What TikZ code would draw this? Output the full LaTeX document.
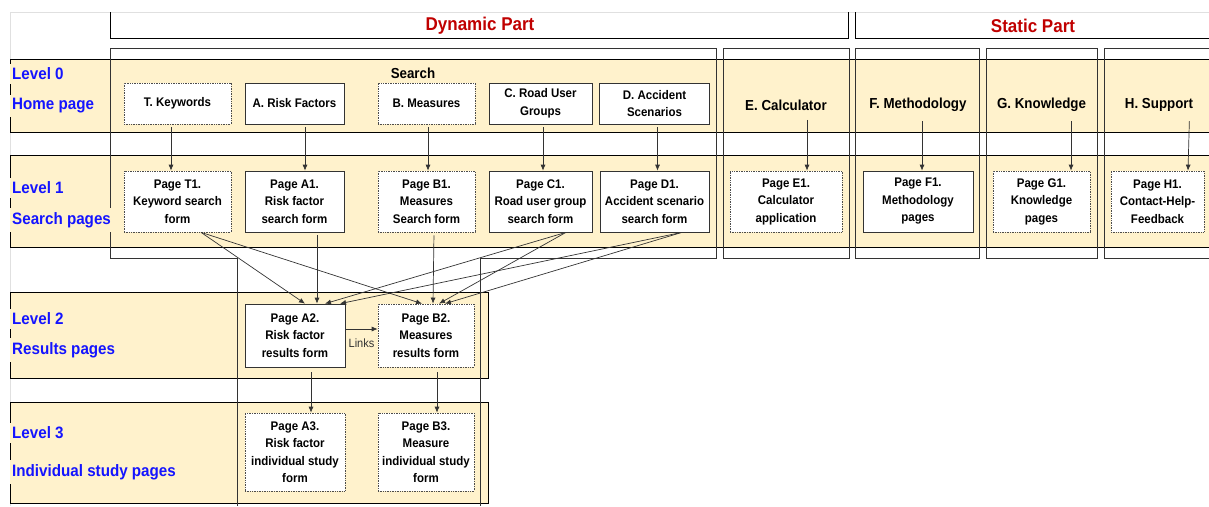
\documentclass[tikz,border=0pt]{standalone}
\usepackage{fontspec}
\setmainfont{Liberation Sans}[FakeStretch=0.92]
\usetikzlibrary{arrows.meta}
\definecolor{bandfill}{HTML}{FFF2CC}
\definecolor{lvlblue}{HTML}{1414FF}
\definecolor{partred}{HTML}{C00000}
\definecolor{linegray}{HTML}{333333}
\newcommand{\boxtxt}{\fontsize{12.5}{17.5}\selectfont\bfseries}
\newcommand{\lvltxt}{\fontsize{16.5}{20}\selectfont\bfseries}
\newcommand{\coltxt}{\fontsize{14.5}{17}\selectfont\bfseries}
\newcommand{\parttxt}{\fontsize{18.5}{22}\selectfont\bfseries}

\begin{document}
\begin{tikzpicture}[x=1pt,y=-1pt,
    band/.style={fill=bandfill,draw=black,line width=0.8pt},
    frame/.style={draw=linegray,line width=0.9pt},
    pagebox/.style={draw=black!80,fill=white,line width=0.7pt,align=center,font=\boxtxt,inner sep=1pt},
    dotbox/.style={pagebox,draw=black!70,densely dotted},
    lvl/.style={anchor=west,text=lvlblue,font=\lvltxt,fill=bandfill,inner xsep=2pt,inner ysep=4pt},
    arr/.style={-{Latex[length=6pt,width=5pt]},draw=linegray,line width=0.7pt}]
\useasboundingbox (0,0) rectangle (1209,506);
\clip (0,0) rectangle (1209,506);
\draw[black!12] (10,506) -- (10,12) -- (1209,12); % sheet border

% level bands
\draw[band] (10,59) rectangle (1215,132);
\draw[band] (10,155) rectangle (1215,247);
\draw[band] (10,292) rectangle (488,378);
\draw[band] (10,402) rectangle (488,503);

% header
\draw[black,line width=0.8pt] (110,12) -- (110,38) -- (848,38) -- (848,12);
\draw[black,line width=0.8pt] (855,12) -- (855,38) -- (1215,38);
\node[text=partred,font=\parttxt] (dyn) at (480,26) {Dynamic Part};
\node[text=partred,font=\parttxt] (sta) at (1033,26) {Static Part};

% column frames
\draw[frame] (237,506) -- (237,258) -- (110,258) -- (110,48) -- (716,48) -- (716,258) -- (480,258) -- (480,506);
\draw[frame] (723,48) rectangle (849,258);
\draw[frame] (855,48) rectangle (979,258);
\draw[frame] (986,48) rectangle (1097,258);
\draw[frame] (1104,48) rectangle (1215,258);

% level labels
\node[lvl] (l0a) at (10,74) {Level 0};
\node[lvl] (l0b) at (10,106) {Home page};
\node[lvl] (l1a) at (10,188) {Level 1};
\node[lvl] (l1b) at (10,220) {Search pages};
\node[lvl] (l2a) at (10,319) {Level 2};
\node[lvl] (l2b) at (10,350) {Results pages};
\node[lvl] (l3a) at (10,433) {Level 3};
\node[lvl] (l3b) at (10,472) {Individual study pages};

% level 0
\node[font=\coltxt] (srch) at (413,73) {Search};
\node[dotbox,minimum width=107pt,minimum height=41pt] (hT) at (177.5,103.5) {T. Keywords};
\node[pagebox,minimum width=99pt,minimum height=41pt] (hA) at (294.5,103.5) {A. Risk Factors};
\node[dotbox,minimum width=97pt,minimum height=41pt] (hB) at (426.5,103.5) {B. Measures};
\node[pagebox,minimum width=103pt,minimum height=41pt] (hC) at (540.5,103.5) {C. Road User\\Groups};
\node[pagebox,minimum width=110pt,minimum height=41pt] (hD) at (654.5,103.5) {D. Accident\\Scenarios};
\node[font=\coltxt] (hE) at (786,105) {E. Calculator};
\node[font=\coltxt] (hF) at (918,105) {F. Methodology};
\node[font=\coltxt] (hG) at (1041.5,105) {G. Knowledge};
\node[font=\coltxt] (hH) at (1159,105) {H. Support};

% level 1
\node[dotbox,minimum width=107pt,minimum height=61pt] (pT) at (177.5,201.5) {Page T1.\\Keyword search\\form};
\node[pagebox,minimum width=99pt,minimum height=61pt] (pA) at (294.5,201.5) {Page A1.\\Risk factor\\search form};
\node[dotbox,minimum width=97pt,minimum height=61pt] (pB) at (426.5,201.5) {Page B1.\\Measures\\Search form};
\node[pagebox,minimum width=103pt,minimum height=61pt] (pC) at (540.5,201.5) {Page C1.\\Road user group\\search form};
\node[pagebox,minimum width=109pt,minimum height=61pt] (pD) at (654.5,201.5) {Page D1.\\Accident scenario\\search form};
\node[dotbox,minimum width=112pt,minimum height=61pt] (pE) at (786,201.5) {Page E1.\\Calculator\\application};
\node[pagebox,minimum width=110pt,minimum height=61pt] (pF) at (918,201.5) {Page F1.\\Methodology\\pages};
\node[dotbox,minimum width=97pt,minimum height=61pt] (pG) at (1041.5,201.5) {Page G1.\\Knowledge\\pages};
\node[dotbox,minimum width=93pt,minimum height=61pt] (pH) at (1157.5,201.5) {Page H1.\\Contact-Help-\\Feedback};

% level 2 and 3
\node[pagebox,minimum width=100pt,minimum height=63pt] (rA) at (295,335.5) {Page A2.\\Risk factor\\results form};
\node[dotbox,minimum width=96pt,minimum height=63pt] (rB) at (426,335.5) {Page B2.\\Measures\\results form};
\node[dotbox,minimum width=100pt,minimum height=78pt] (iA) at (295,452) {Page A3.\\Risk factor\\individual study\\form};
\node[dotbox,minimum width=96pt,minimum height=78pt] (iB) at (426,452) {Page B3.\\Measure\\individual study\\form};

% level 0 -> level 1
\foreach \n/\dx in {T/-6.5,A/10.5,B/1.5,C/2.5,D/3}
  \draw[arr,shorten <=3pt] ([xshift=\dx pt]h\n.south) -- ([xshift=\dx pt]p\n.north);
\foreach \n/\dx in {E/21,F/4,G/29.5,H/30.5}
  \draw[arr,shorten <=6pt] ([xshift=\dx pt]h\n.south) -- ([xshift=\dx pt]p\n.north);

% level 1 -> level 2
\draw[arr] ([xshift=23.5pt]pT.south) -- ([xshift=10pt]rA.north);
\draw[arr] ([xshift=23.5pt]pT.south) -- ([xshift=-4pt]rB.north);
\draw[arr,shorten <=3pt] ([xshift=22.5pt]pA.south) -- ([xshift=22pt]rA.north);
\draw[arr,shorten <=3pt] ([xshift=7.5pt]pB.south) -- ([xshift=7pt]rB.north);
\draw[arr] ([xshift=25.5pt]pC.south) -- ([xshift=30pt]rA.north);
\draw[arr] ([xshift=25.5pt]pC.south) -- ([xshift=13pt]rB.north);
\draw[arr] ([xshift=27.5pt]pD.south) -- ([xshift=45pt]rA.north);
\draw[arr] ([xshift=27.5pt]pD.south) -- ([xshift=19pt]rB.north);

% links and level 2 -> level 3
\draw[arr] ([yshift=6.5pt]rA.east) -- ([yshift=6.5pt]rB.west)
  node[midway,below=8pt,font=\fontsize{12}{14}\selectfont,text=linegray,inner sep=1pt] (lnk) {Links};
\draw[arr,shorten <=5pt] ([xshift=16pt]rA.south) -- ([xshift=16pt]iA.north);
\draw[arr,shorten <=5pt] ([xshift=11pt]rB.south) -- ([xshift=11pt]iB.north);
\end{tikzpicture}
\end{document}
